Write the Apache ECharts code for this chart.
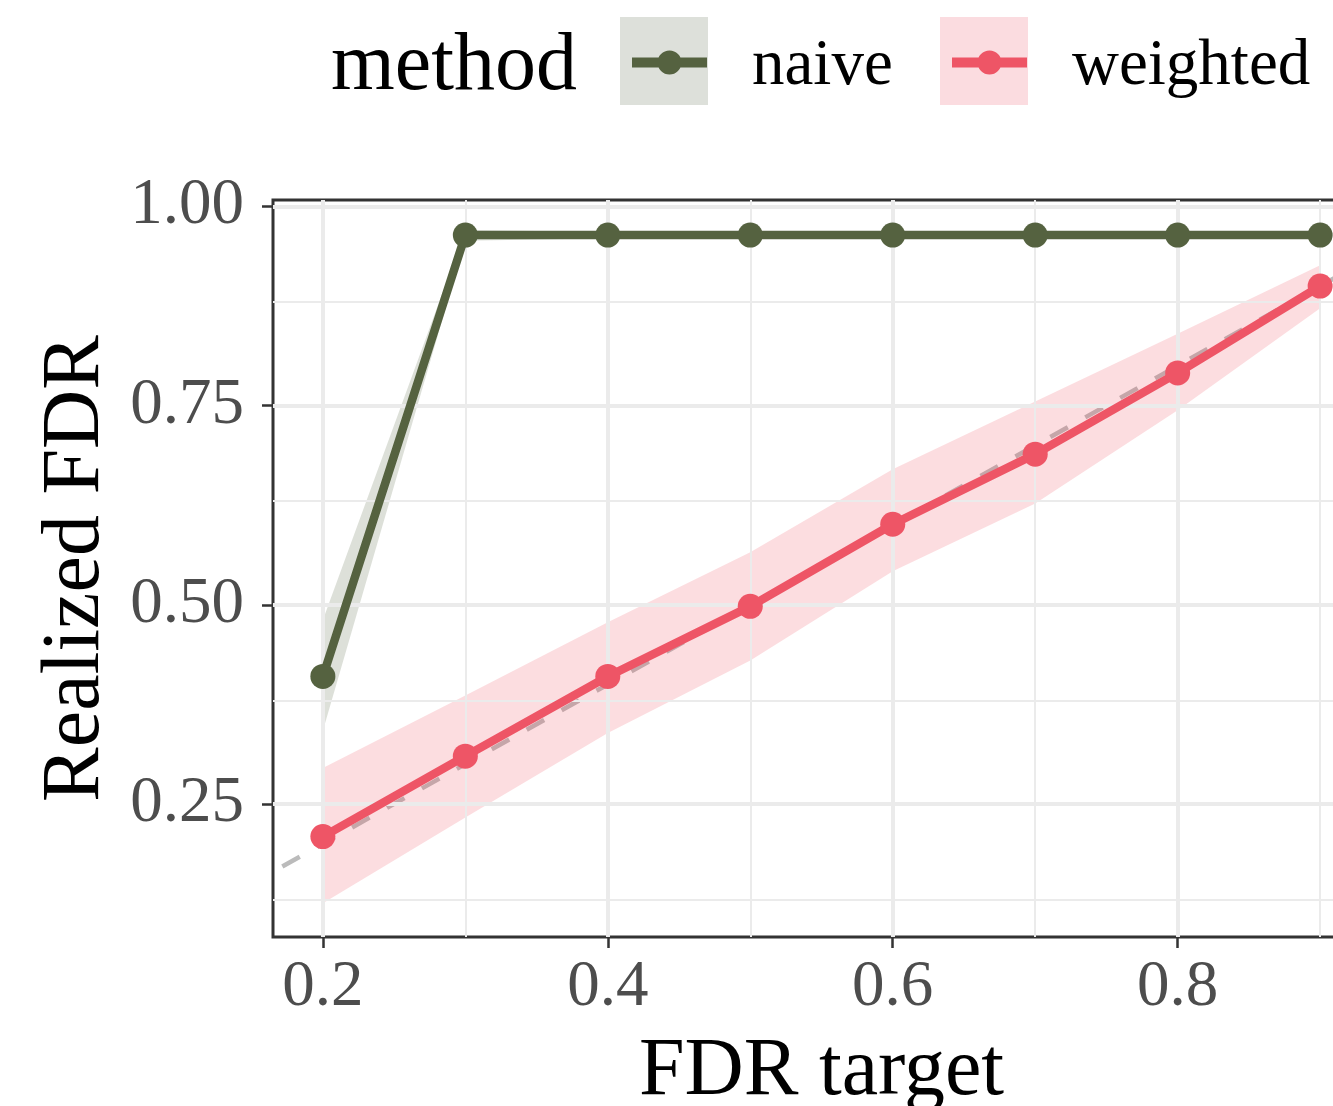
<!DOCTYPE html>
<html>
<head>
<meta charset="utf-8">
<script src="https://cdn.jsdelivr.net/npm/echarts@6/dist/echarts.min.js"></script>
<style>html,body{margin:0;padding:0;background:#fff;overflow:hidden;}#c{width:1333px;height:1106px;}</style>
</head>
<body>
<div id="c"></div>
<script>
// ---- data ----
const fdrTarget = [0.2, 0.3, 0.4, 0.5, 0.6, 0.7, 0.8, 0.9];
const naiveFDR = [0.410, 0.964, 0.964, 0.964, 0.964, 0.964, 0.964, 0.964];
const naiveLower = [0.342, 0.957, 0.960, 0.960, 0.960, 0.960, 0.960, 0.960];
const naiveUpper = [0.481, 0.970, 0.968, 0.968, 0.968, 0.968, 0.968, 0.968];
const weightedFDR = [0.209, 0.310, 0.410, 0.498, 0.601, 0.689, 0.791, 0.900];
const weightedLower = [0.1255, 0.233, 0.339, 0.430, 0.542, 0.627, 0.744, 0.872];
const weightedUpper = [0.295, 0.386, 0.478, 0.566, 0.670, 0.755, 0.840, 0.926];
const diagonal = [[0, 0], [1, 1]];
const xMajorTicks = [0.2, 0.4, 0.6, 0.8];
const xMinorTicks = [0.3, 0.5, 0.7, 0.9];
const yMajorTicks = [0.25, 0.5, 0.75, 1.0];
const yMinorTicks = [0.125, 0.375, 0.625, 0.875];
const methods = ['naive', 'weighted'];

// ---- styling ----
const FONT = "'Liberation Serif', 'Times New Roman', serif";
const NAIVE = '#556240';
const WEIGHTED = '#ee5566';
const zip = (xs, ys) => xs.map((x, i) => [x, ys[i]]);

const gridLines = [];
xMajorTicks.forEach(v => gridLines.push({xAxis: v, lineStyle: {color: '#ebebeb', width: 4, type: 'solid'}}));
xMinorTicks.forEach(v => gridLines.push({xAxis: v, lineStyle: {color: '#ebebeb', width: 2, type: 'solid'}}));
yMajorTicks.forEach(v => gridLines.push({yAxis: v, lineStyle: {color: '#ebebeb', width: 4, type: 'solid'}}));
yMinorTicks.forEach(v => gridLines.push({yAxis: v, lineStyle: {color: '#ebebeb', width: 2, type: 'solid'}}));

// ribbon drawn as one polygon through the axis scales
function ribbon(xs, lo, hi, color) {
  return {
    type: 'custom', silent: true, z: 2, clip: true,
    data: xs.map((x, i) => [x, lo[i], hi[i]]),
    renderItem: function (params, api) {
      if (params.dataIndex !== 0) return null;
      const pts = [];
      for (let i = 0; i < xs.length; i++) pts.push(api.coord([xs[i], hi[i]]));
      for (let i = xs.length - 1; i >= 0; i--) pts.push(api.coord([xs[i], lo[i]]));
      return {type: 'polygon', shape: {points: pts}, style: {fill: color, opacity: 0.2}};
    }
  };
}

// line + dot key; the empty sub-path at the bottom only enlarges the box so the key sits higher than the label centre
const iconPath = 'path://M0,7 L75,7 L75,17 L0,17 Z M37.5,0 A12,12 0 1,1 37.49,0 Z M37.5,32 L37.5,32 Z';

const chart = echarts.init(document.getElementById('c'), null, {renderer: 'canvas'});
chart.setOption({
  animation: false,
  backgroundColor: '#ffffff',
  title: {
    text: 'method', left: 326, top: 21,
    textStyle: {fontFamily: FONT, fontSize: 82, fontWeight: 'normal', color: '#000'}
  },
  graphic: [
    {type: 'rect', shape: {x: 620, y: 17, width: 88, height: 88}, style: {fill: '#dde0da'}, z: -1},
    {type: 'rect', shape: {x: 940, y: 17, width: 88, height: 88}, style: {fill: '#fbdce0'}, z: -1}
  ],
  legend: [
    {data: [methods[0]], left: 627, top: 29, itemWidth: 75, itemHeight: 32, icon: iconPath,
     itemStyle: {borderWidth: 0},
     textStyle: {fontFamily: FONT, fontSize: 65, color: '#000', padding: [0, 0, 0, 40]}},
    {data: [methods[1]], left: 947, top: 29, itemWidth: 75, itemHeight: 32, icon: iconPath,
     itemStyle: {borderWidth: 0},
     textStyle: {fontFamily: FONT, fontSize: 65, color: '#000', padding: [0, 0, 0, 40]}}
  ],
  grid: {left: 273, right: -37, top: 200, bottom: 169, outerBoundsMode: 'none', containLabel: false,
         show: true, borderColor: '#333333', borderWidth: 3, backgroundColor: '#fff'},
  xAxis: {
    type: 'value', min: 0.165, max: 0.935,
    name: 'FDR target', nameLocation: 'middle', nameGap: 94,
    nameTextStyle: {fontFamily: FONT, fontSize: 82, color: '#000'},
    axisLine: {show: false},
    axisTick: {show: true, customValues: xMajorTicks, length: 11, lineStyle: {color: '#333', width: 2.5}},
    axisLabel: {customValues: xMajorTicks, formatter: v => Number(v).toFixed(1), fontFamily: FONT, fontSize: 65, color: '#4d4d4d', margin: 18},
    splitLine: {show: false}
  },
  yAxis: {
    type: 'value', min: 0.083, max: 1.008,
    name: 'Realized FDR', nameLocation: 'middle', nameGap: 156, nameRotate: 90,
    nameTextStyle: {fontFamily: FONT, fontSize: 82, color: '#000'},
    axisLine: {show: false},
    axisTick: {show: true, customValues: yMajorTicks, length: 11, lineStyle: {color: '#333', width: 2.5}},
    axisLabel: {customValues: yMajorTicks, formatter: v => Number(v).toFixed(2), fontFamily: FONT, fontSize: 65, color: '#4d4d4d', margin: 29},
    splitLine: {show: false}
  },
  series: [
    {type: 'line', name: 'grid', data: diagonal, symbol: 'none', lineStyle: {opacity: 0}, silent: true, z: 0,
     markLine: {silent: true, symbol: 'none', label: {show: false}, animation: false, data: gridLines}},
    {type: 'line', name: 'identity', data: diagonal, symbol: 'none', silent: true, z: 1,
     lineStyle: {color: '#bbbbbb', width: 4.5, type: [20, 20]}},
    ribbon(fdrTarget, naiveLower, naiveUpper, NAIVE),
    ribbon(fdrTarget, weightedLower, weightedUpper, WEIGHTED),
    {type: 'line', name: methods[0], data: zip(fdrTarget, naiveFDR), symbol: 'circle', symbolSize: 25,
     itemStyle: {color: NAIVE}, lineStyle: {color: NAIVE, width: 8.5}, z: 5},
    {type: 'line', name: methods[1], data: zip(fdrTarget, weightedFDR), symbol: 'circle', symbolSize: 25,
     itemStyle: {color: WEIGHTED}, lineStyle: {color: WEIGHTED, width: 8.5}, z: 5}
  ]
});
</script>
</body>
</html>
